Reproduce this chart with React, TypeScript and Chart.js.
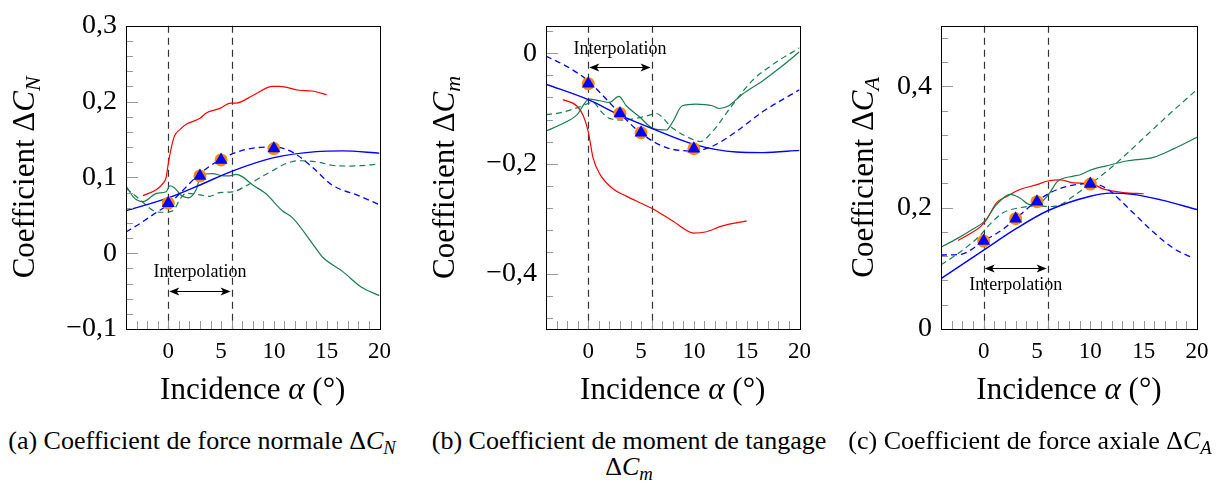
import { useEffect, useRef } from 'react';
import { Chart, registerables } from 'chart.js';
Chart.register(...registerables);

type Pt = [number, number];

// Shared axis values
const alphaTicks = [0, 5, 10, 15, 20];
const interpBounds = [0, 6];
const markerAlpha = [0, 3, 5, 10];

// (a) Normal force coefficient ΔC_N
const cnTicks = [-0.1, 0, 0.1, 0.2, 0.3];
const cnMarkers = [0.066, 0.102, 0.123, 0.138];
const cnRed: Pt[] = [[-2.4, 0.076], [-1.1, 0.084], [-0.5, 0.092], [-0.2, 0.1], [0, 0.118], [0.3, 0.14], [0.6, 0.155], [1.1, 0.163], [1.7, 0.17], [3.0, 0.178], [3.6, 0.185], [4.9, 0.191], [5.9, 0.198], [6.4, 0.198], [8.0, 0.208], [9.9, 0.22], [10.5, 0.22], [12.4, 0.215], [13.6, 0.214], [15, 0.209]];
const cnBlue: Pt[] = [[-4, 0.056], [0, 0.073], [3, 0.09], [6, 0.108], [10, 0.126], [14, 0.134], [16.5, 0.135], [20, 0.132]];
const cnBlueDash: Pt[] = [[-4, 0.028], [-2.7, 0.039], [-1.1, 0.054], [0, 0.064], [1.1, 0.079], [3, 0.105], [5, 0.124], [7.4, 0.137], [10, 0.14], [11.8, 0.133], [13.6, 0.114], [15.5, 0.09], [18, 0.076], [20, 0.064]];
const cnGreen: Pt[] = [[-4, 0.089], [-3.3, 0.074], [-2.4, 0.068], [-1.1, 0.079], [-0.2, 0.081], [0.15, 0.089], [0.6, 0.086], [1.25, 0.076], [1.9, 0.073], [2.65, 0.084], [3.1, 0.103], [4.2, 0.105], [5.2, 0.102], [5.8, 0.102], [6.4, 0.104], [7.0, 0.101], [8.0, 0.09], [9.2, 0.079], [10.8, 0.056], [11.75, 0.047], [14, 0.006], [14.6, -0.005], [16.5, -0.024], [18.3, -0.045], [20, -0.056]];
const cnGreenDash: Pt[] = [[-4, 0.086], [-2.7, 0.071], [-1.4, 0.056], [-0.5, 0.054], [0.45, 0.056], [1.1, 0.071], [1.7, 0.079], [3.0, 0.077], [3.9, 0.075], [4.85, 0.08], [6.1, 0.081], [7.4, 0.089], [8.6, 0.099], [9.9, 0.109], [11.1, 0.118], [12.4, 0.122], [14.3, 0.12], [15.5, 0.116], [17.1, 0.115], [18.7, 0.116], [20, 0.118]];

// (b) Pitching moment coefficient ΔC_m
const cmTicks = [-0.4, -0.2, 0];
const cmMarkers = [-0.055, -0.109, -0.144, -0.173];
const cmRed: Pt[] = [[-2.4, -0.084], [-1.1, -0.095], [-0.5, -0.112], [0, -0.142], [0.45, -0.189], [1.1, -0.219], [2.3, -0.245], [3.6, -0.259], [5, -0.272], [6.1, -0.282], [8, -0.304], [10, -0.326], [11.1, -0.324], [12.7, -0.313], [15, -0.304]];
const cmBlue: Pt[] = [[-4, -0.056], [0, -0.084], [3, -0.112], [6, -0.136], [10, -0.165], [14, -0.179], [16.5, -0.18], [20, -0.176]];
const cmBlueDash: Pt[] = [[-4, -0.005], [-2, -0.024], [0, -0.05], [1.4, -0.077], [3, -0.109], [5, -0.145], [7.4, -0.171], [10, -0.177], [11.8, -0.168], [14, -0.142], [16.5, -0.106], [20, -0.066]];
const cmGreen: Pt[] = [[-4, -0.141], [-2.7, -0.13], [-1.1, -0.112], [0.1, -0.083], [1.1, -0.086], [2, -0.089], [2.9, -0.078], [3.6, -0.095], [4.85, -0.115], [6.1, -0.136], [7.4, -0.139], [8, -0.124], [8.9, -0.095], [10.2, -0.092], [11.75, -0.095], [12.4, -0.1], [13.3, -0.095], [14.6, -0.074], [16.5, -0.05], [18.3, -0.024], [20, 0.003]];
const cmGreenDash: Pt[] = [[-4, -0.111], [-2.7, -0.108], [-0.8, -0.097], [0.45, -0.089], [1.25, -0.106], [2, -0.118], [3.3, -0.121], [4.5, -0.118], [5.8, -0.112], [6.4, -0.109], [8, -0.136], [10, -0.157], [10.6, -0.16], [11.75, -0.142], [13.6, -0.095], [15.5, -0.05], [17.4, -0.021], [20, 0.01]];

// (c) Axial force coefficient ΔC_A
const caTicks = [0, 0.2, 0.4];
const caMarkers = [0.145, 0.182, 0.21, 0.239];
const caRed: Pt[] = [[-2.4, 0.146], [-1.3, 0.157], [-0.35, 0.168], [0.3, 0.181], [0.8, 0.197], [1.2, 0.208], [2.2, 0.219], [3.4, 0.23], [5, 0.238], [6, 0.244], [7.2, 0.246], [8.4, 0.241], [10, 0.24], [11.2, 0.231], [13.1, 0.225], [15, 0.223]];
const caBlue: Pt[] = [[-4, 0.083], [0, 0.13], [3, 0.165], [6, 0.195], [10, 0.219], [11.9, 0.224], [14, 0.222], [16.6, 0.213], [20, 0.197]];
const caBlueDash: Pt[] = [[-4, 0.122], [-2.2, 0.123], [0, 0.145], [1.85, 0.165], [3, 0.182], [5, 0.211], [6.9, 0.23], [10, 0.24], [11.5, 0.232], [13.7, 0.197], [15.9, 0.16], [17.8, 0.133], [19.5, 0.118]];
const caGreen: Pt[] = [[-4, 0.135], [-2.5, 0.149], [-1, 0.165], [0.1, 0.178], [1.2, 0.205], [2.5, 0.222], [3.4, 0.216], [4.35, 0.205], [5.3, 0.208], [6.1, 0.222], [6.9, 0.243], [8.4, 0.252], [9, 0.254], [10, 0.262], [11.5, 0.269], [13.4, 0.277], [15.9, 0.283], [17.8, 0.297], [20, 0.316]];
const caGreenDash: Pt[] = [[-4, 0.106], [-2.85, 0.119], [-1.6, 0.135], [-0.35, 0.154], [0.6, 0.173], [1.85, 0.192], [3.4, 0.2], [5, 0.203], [6.1, 0.202], [7.2, 0.205], [8.4, 0.219], [10.3, 0.243], [12.2, 0.27], [14.7, 0.31], [17.2, 0.351], [20, 0.395]];

const FONT = "'Liberation Serif', 'Times New Roman', serif";
const RED = '#ff0000';
const BLUE = '#0000ff';
const GREEN = '#1e7b4f';
const ORANGE = '#ff8c00';

interface PanelDef {
  left: number;
  width: number;
  plotW: number;
  yMin: number;
  yMax: number;
  yMinor: number;
  yTicks: number[];
  sub: string;
  titleBaseX: number;
  textY: number;
  arrowY: number;
  markers: number[];
  red: Pt[];
  blue: Pt[];
  blueDash: Pt[];
  green: Pt[];
  greenDash: Pt[];
}

const panels: PanelDef[] = [
  { left: 0, width: 400, plotW: 255, yMin: -0.1, yMax: 0.3, yMinor: 0.02, yTicks: cnTicks, sub: 'N', titleBaseX: 34, textY: -0.025, arrowY: -0.05, markers: cnMarkers, red: cnRed, blue: cnBlue, blueDash: cnBlueDash, green: cnGreen, greenDash: cnGreenDash },
  { left: 420, width: 400, plotW: 255, yMin: -0.5, yMax: 0.05, yMinor: 0.04, yTicks: cmTicks, sub: 'm', titleBaseX: 34, textY: 0.008, arrowY: -0.025, markers: cmMarkers, red: cmRed, blue: cmBlue, blueDash: cmBlueDash, green: cmGreen, greenDash: cmGreenDash },
  { left: 815, width: 404, plotW: 256, yMin: 0, yMax: 0.5, yMinor: 0.04, yTicks: caTicks, sub: 'A', titleBaseX: 58, textY: 0.0726, arrowY: 0.1, markers: caMarkers, red: caRed, blue: caBlue, blueDash: caBlueDash, green: caGreen, greenDash: caGreenDash },
];

const fmt = (v: number) => {
  const r = Math.round(v * 1000) / 1000;
  if (r === 0) return '0';
  return (r < 0 ? '\u2212' : '') + String(Math.abs(r)).replace('.', ',');
};

function makeDecor(def: PanelDef) {
  return {
    id: 'decor',
    beforeDatasetsDraw(chart: any) {
      const { ctx, chartArea: a, scales } = chart;
      const x = scales.x;
      ctx.save();
      ctx.strokeStyle = '#333';
      ctx.lineWidth = 1.2;
      ctx.setLineDash([7, 5]);
      interpBounds.forEach((v) => {
        const px = Math.round(x.getPixelForValue(v)) + 0.5;
        ctx.beginPath();
        ctx.moveTo(px, a.top);
        ctx.lineTo(px, a.bottom);
        ctx.stroke();
      });
      ctx.restore();
    },
    afterDraw(chart: any) {
      const { ctx, chartArea: a, scales } = chart;
      const x = scales.x;
      const y = scales.y;
      ctx.save();
      // tick marks (inside)
      ctx.strokeStyle = '#999';
      ctx.lineWidth = 1;
      ctx.setLineDash([]);
      const n = Math.round((def.yMax - def.yMin) / def.yMinor) + 2;
      const start = Math.ceil(def.yMin / def.yMinor - 1e-6);
      for (let i = start; i < start + n; i++) {
        const v = i * def.yMinor;
        if (v < def.yMin - 1e-9 || v > def.yMax + 1e-9) continue;
        const major = def.yTicks.some((t) => Math.abs(t - v) < 1e-6);
        const py = Math.round(y.getPixelForValue(v)) + 0.5;
        ctx.beginPath();
        ctx.moveTo(a.left, py);
        ctx.lineTo(a.left + (major ? 12 : 7), py);
        ctx.stroke();
      }
      for (let v = -4; v <= 20; v++) {
        const px = Math.round(x.getPixelForValue(v)) + 0.5;
        ctx.beginPath();
        ctx.moveTo(px, a.bottom);
        ctx.lineTo(px, a.bottom - 8);
        ctx.stroke();
      }
      // frame
      ctx.strokeStyle = '#000';
      ctx.lineWidth = 1;
      ctx.strokeRect(Math.round(a.left) + 0.5, Math.round(a.top) + 0.5, Math.round(a.right - a.left), Math.round(a.bottom - a.top));
      // interpolation arrow
      const x0 = x.getPixelForValue(interpBounds[0]);
      const x1 = x.getPixelForValue(interpBounds[1]);
      const ay = Math.round(y.getPixelForValue(def.arrowY)) + 0.5;
      ctx.lineWidth = 1.2;
      ctx.beginPath();
      ctx.moveTo(x0 + 3, ay);
      ctx.lineTo(x1 - 3, ay);
      ctx.stroke();
      ctx.fillStyle = '#000';
      const head = (tip: number, dir: number) => {
        ctx.beginPath();
        ctx.moveTo(tip, ay);
        ctx.lineTo(tip - dir * 10, ay - 4);
        ctx.lineTo(tip - dir * 7.5, ay);
        ctx.lineTo(tip - dir * 10, ay + 4);
        ctx.closePath();
        ctx.fill();
      };
      head(x0 + 1, -1);
      head(x1 - 1, 1);
      ctx.font = `18px ${FONT}`;
      ctx.textAlign = 'center';
      ctx.textBaseline = 'middle';
      ctx.fillText('Interpolation', x.getPixelForValue((interpBounds[0] + interpBounds[1]) / 2), y.getPixelForValue(def.textY));
      // x title
      ctx.textBaseline = 'alphabetic';
      ctx.textAlign = 'left';
      const fN = `31px ${FONT}`;
      const fI = `italic 31px ${FONT}`;
      const p1 = 'Incidence ';
      const p2 = '\u03b1';
      const p3 = ' (\u00b0)';
      ctx.font = fN;
      const w1 = ctx.measureText(p1).width;
      const w3 = ctx.measureText(p3).width;
      ctx.font = fI;
      const w2 = ctx.measureText(p2).width;
      let cx = (a.left + a.right) / 2 - (w1 + w2 + w3) / 2;
      ctx.font = fN;
      ctx.fillText(p1, cx, 399);
      cx += w1;
      ctx.font = fI;
      ctx.fillText(p2, cx, 399);
      cx += w2;
      ctx.font = fN;
      ctx.fillText(p3, cx, 399);
      // y title
      ctx.translate(def.titleBaseX, (a.top + a.bottom) / 2);
      ctx.rotate(-Math.PI / 2);
      const t1 = 'Coefficient \u0394';
      const t2 = 'C';
      const t3 = def.sub;
      const fT = `31px ${FONT}`;
      const fTI = `italic 31px ${FONT}`;
      const fS = `italic 22px ${FONT}`;
      ctx.font = fT;
      const v1 = ctx.measureText(t1).width;
      ctx.font = fTI;
      const v2 = ctx.measureText(t2).width;
      ctx.font = fS;
      const v3 = ctx.measureText(t3).width;
      let tx = -(v1 + v2 + v3) / 2;
      ctx.font = fT;
      ctx.fillText(t1, tx, 0);
      tx += v1;
      ctx.font = fTI;
      ctx.fillText(t2, tx, 0);
      tx += v2;
      ctx.font = fS;
      ctx.fillText(t3, tx, 6);
      ctx.restore();
    },
  };
}

function Panel({ def }: { def: PanelDef }) {
  const ref = useRef<HTMLCanvasElement>(null);
  useEffect(() => {
    const curve = (data: Pt[], color: string, dashed: boolean, w: number) => ({
      data: data.map(([x, y]) => ({ x, y })),
      borderColor: color,
      backgroundColor: color,
      borderWidth: w,
      borderDash: dashed ? [6, 4] : [],
      pointRadius: 0,
      fill: false,
      cubicInterpolationMode: 'monotone',
    });
    const pts = markerAlpha.map((x, i) => ({ x, y: def.markers[i] }));
    const chart = new Chart(ref.current as HTMLCanvasElement, {
      type: 'line',
      data: {
        datasets: [
          { data: pts, showLine: false, pointStyle: 'triangle', pointRadius: 7.5, backgroundColor: BLUE, borderColor: BLUE, borderWidth: 0 },
          { data: pts, showLine: false, pointStyle: 'circle', pointRadius: 6.5, backgroundColor: ORANGE, borderColor: ORANGE, borderWidth: 0 },
          curve(def.blue, BLUE, false, 1.4),
          curve(def.blueDash, BLUE, true, 1.3),
          curve(def.green, GREEN, false, 1.2),
          curve(def.greenDash, GREEN, true, 1.2),
          curve(def.red, RED, false, 1.2),
        ] as any,
      },
      options: {
        responsive: false,
        animation: false,
        devicePixelRatio: 1,
        layout: { padding: { left: 0, right: def.width - 126 - def.plotW, top: 19, bottom: 0 } },
        plugins: { legend: { display: false }, tooltip: { enabled: false } },
        events: [],
        scales: {
          x: {
            type: 'linear',
            min: -4,
            max: 20,
            grid: { display: false, drawTicks: false },
            border: { display: false },
            afterBuildTicks: (s: any) => {
              s.ticks = alphaTicks.map((v) => ({ value: v }));
            },
            afterFit: (s: any) => {
              s.height = 81;
            },
            ticks: {
              font: { family: FONT, size: 23 },
              color: '#000',
              padding: 9,
              maxRotation: 0,
              autoSkip: false,
              callback: (v: any) => String(v),
            },
          },
          y: {
            type: 'linear',
            min: def.yMin,
            max: def.yMax,
            grid: { display: false, drawTicks: false },
            border: { display: false },
            afterBuildTicks: (s: any) => {
              s.ticks = def.yTicks.map((v) => ({ value: v }));
            },
            afterFit: (s: any) => {
              s.width = 126;
            },
            ticks: {
              font: { family: FONT, size: 28 },
              color: '#000',
              padding: 9,
              autoSkip: false,
              callback: (v: any) => fmt(Number(v)),
            },
          },
        },
      } as any,
      plugins: [makeDecor(def)],
    });
    return () => chart.destroy();
  }, [def]);
  return (
    <canvas
      ref={ref}
      width={def.width}
      height={410}
      style={{ position: 'absolute', left: def.left, top: 0, width: def.width, height: 410 }}
    />
  );
}

const capStyle = (left: number, width: number): any => ({
  position: 'absolute',
  left,
  top: 428,
  width,
  textAlign: 'center',
  fontFamily: FONT,
  fontSize: 26,
  lineHeight: '25.5px',
  color: '#000',
  whiteSpace: 'nowrap',
});
const subStyle: any = { fontStyle: 'italic', fontSize: '0.72em', position: 'relative', top: '0.28em' };

export default function App() {
  return (
    <div style={{ position: 'absolute', left: 0, top: 0, width: 1219, height: 484, background: '#fff', overflow: 'hidden' }}>
      {panels.map((p, i) => (
        <Panel key={i} def={p} />
      ))}
      <div style={capStyle(0, 404)}>
        (a) Coefficient de force normale Δ<i>C</i><span style={subStyle}>N</span>
      </div>
      <div style={capStyle(420, 418)}>
        (b) Coefficient de moment de tangage
        <br />Δ<i>C</i><span style={subStyle}>m</span>
      </div>
      <div style={capStyle(830, 400)}>
        (c) Coefficient de force axiale Δ<i>C</i><span style={subStyle}>A</span>
      </div>
    </div>
  );
}
